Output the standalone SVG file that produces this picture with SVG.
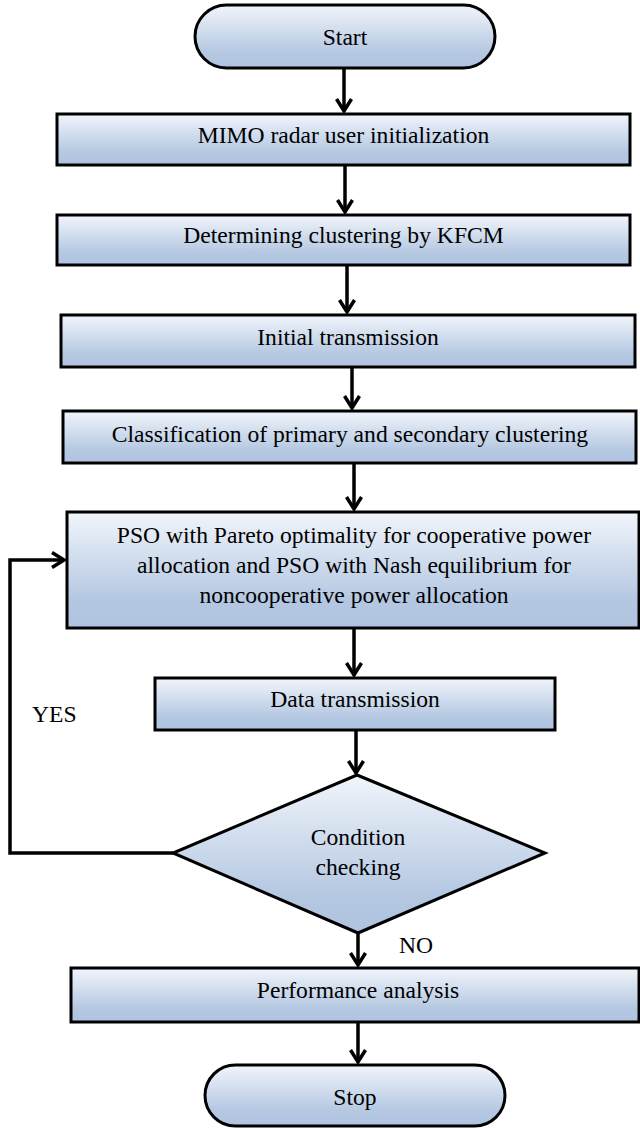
<svg xmlns="http://www.w3.org/2000/svg" width="640" height="1128" viewBox="0 0 640 1128">
<style>
.box{stroke:#000;stroke-width:3;fill:url(#g)}
.t{font-family:'Liberation Serif','Tinos','DejaVu Serif',serif;font-size:23.6px;fill:#000;text-anchor:middle}
.lab{font-family:'Liberation Serif','Tinos','DejaVu Serif',serif;font-size:23.6px;fill:#000}
.c{stroke:#000;stroke-width:3.5;fill:none;marker-end:url(#ah)}
</style>
<defs>
<linearGradient id="g" x1="0" y1="0" x2="0" y2="1">
<stop offset="0" stop-color="#f1f5fb"/>
<stop offset="0.75" stop-color="#b5c8e2"/>
<stop offset="1" stop-color="#afc3e0"/>
</linearGradient>
<marker id="ah" markerUnits="userSpaceOnUse" viewBox="-16 -11 18 22" refX="0" refY="0" markerWidth="18" markerHeight="22" orient="auto" overflow="visible">
<path d="M-12,-7.5 L0,0 L-12,7.5" fill="none" stroke="#000" stroke-width="3.5" stroke-linecap="butt" stroke-linejoin="miter"/>
</marker>
</defs>
<g id="connectors">
<line class="c" x1="344" y1="68" x2="344" y2="111"/>
<line class="c" x1="345" y1="165" x2="345" y2="212"/>
<line class="c" x1="347" y1="265" x2="347" y2="312"/>
<line class="c" x1="352" y1="367" x2="352" y2="408"/>
<line class="c" x1="354" y1="463" x2="354" y2="509"/>
<line class="c" x1="354" y1="628" x2="354" y2="675"/>
<line class="c" x1="356" y1="730" x2="356" y2="773"/>
<line class="c" x1="358" y1="934" x2="358" y2="965"/>
<line class="c" x1="358" y1="1022" x2="358" y2="1062"/>
<polyline class="c" points="173,853 10,853 10,560 64,560"/>
<text class="lab" x="32" y="722">YES</text>
<text class="lab" x="399" y="953">NO</text>
</g>
<g id="start">
<rect class="box" x="195" y="5" width="300" height="63" rx="31.5" ry="31.5"/>
<text class="t" x="345" y="45">Start</text>
</g>
<g id="mimo">
<rect class="box" x="57" y="114" width="573" height="51"/>
<text class="t" x="343.5" y="143">MIMO radar user initialization</text>
</g>
<g id="kfcm">
<rect class="box" x="57" y="215" width="573" height="50"/>
<text class="t" x="343.5" y="243">Determining clustering by KFCM</text>
</g>
<g id="initial">
<rect class="box" x="61" y="315" width="574" height="52"/>
<text class="t" x="348" y="345">Initial transmission</text>
</g>
<g id="classification">
<rect class="box" x="63" y="411" width="573" height="52"/>
<text class="t" x="350" y="442">Classification of primary and secondary clustering</text>
</g>
<g id="pso">
<rect class="box" x="67" y="512" width="572" height="116"/>
<text class="t" x="354" y="543">PSO with Pareto optimality for cooperative power</text>
<text class="t" x="354" y="573">allocation and PSO with Nash equilibrium for</text>
<text class="t" x="354" y="603">noncooperative power allocation</text>
</g>
<g id="data">
<rect class="box" x="155" y="678" width="400" height="52"/>
<text class="t" x="355" y="707">Data transmission</text>
</g>
<g id="condition">
<polygon class="box" points="357,775 545,853 358,933 173,853"/>
<text class="t" x="358" y="845">Condition</text>
<text class="t" x="358" y="875">checking</text>
</g>
<g id="performance">
<rect class="box" x="71" y="968" width="568" height="54"/>
<text class="t" x="358" y="998">Performance analysis</text>
</g>
<g id="stop">
<rect class="box" x="205" y="1065" width="300" height="61" rx="30.5" ry="30.5"/>
<text class="t" x="355" y="1105">Stop</text>
</g>
</svg>
